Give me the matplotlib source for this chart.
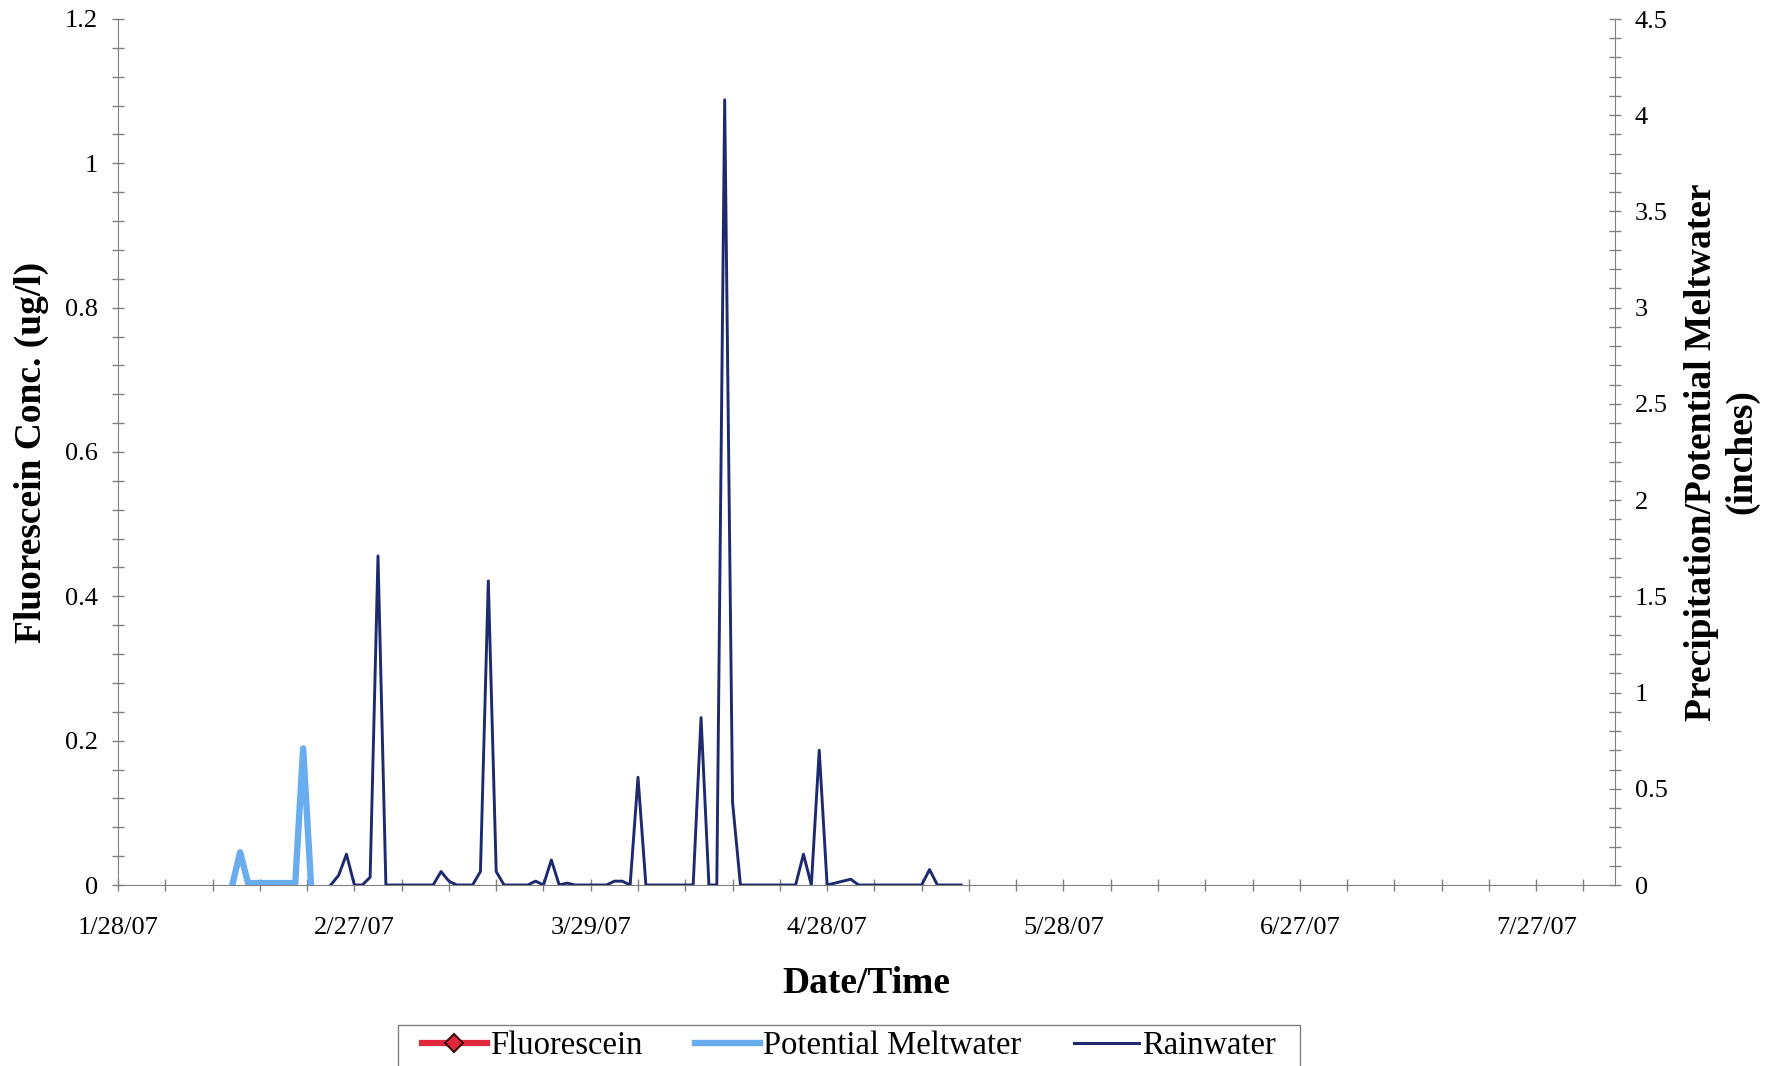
import numpy as np
import pandas as pd
import matplotlib
matplotlib.use('Agg')
import matplotlib.pyplot as plt
from matplotlib.ticker import MultipleLocator, FuncFormatter
from matplotlib.lines import Line2D
from matplotlib.patches import Rectangle

plt.rcParams['font.family'] = ['Liberation Serif', 'DejaVu Serif']

startDate = pd.Timestamp('2007-01-28')
endDate = pd.Timestamp('2007-08-06')

# no fluorescein was detected - the series is only in the legend
flDays = []
flValues = []

# days after 1/28/07, inches
meltDays = [14.5, 15.5, 16.5, 17.5, 18.5, 19.5, 20.5, 21.5, 22.5, 23.5, 24.5]
meltValues = [0, 0.17, 0.01, 0.01, 0.01, 0.01, 0.01, 0.01, 0.01, 0.71, 0]

rainDays = list(range(27, 108))
rainValues = [0, 0.05, 0.16, 0, 0, 0.04, 1.71, 0,          # 27-34
              0, 0, 0, 0, 0, 0, 0.07, 0.02, 0,             # 35-43
              0, 0, 0.07, 1.58, 0.07, 0,                   # 44-49
              0, 0, 0, 0.02, 0, 0.13, 0, 0.01, 0,          # 50-58
              0, 0, 0, 0, 0.02, 0.02, 0, 0.56, 0,          # 59-67
              0, 0, 0, 0, 0, 0, 0.87, 0, 0, 4.08, 0.43, 0, # 68-79
              0, 0, 0, 0, 0, 0, 0, 0.16, 0, 0.70, 0,       # 80-90
              0.01, 0.02, 0.03, 0,                         # 91-94
              0, 0, 0, 0, 0, 0, 0, 0, 0.08, 0,             # 95-104
              0, 0, 0]                                     # 105-107

flColor = '#E0283C'
meltColor = '#6AADEE'
rainColor = '#1E2A6E'
axisColor = '#808080'

def toDates(days):
    return startDate + pd.to_timedelta(np.array(days, dtype=float), unit='D')

W, H = 1787, 1066
fig = plt.figure(figsize=(W / 100, H / 100), dpi=100)
ax = fig.add_axes([118 / W, 1 - 885 / H, (1615 - 118) / W, (885 - 19) / H])
ax2 = ax.twinx()

ax.plot(toDates(flDays), flValues, color=flColor, lw=4.5, marker='D')
ax2.plot(toDates(meltDays), meltValues, color=meltColor, lw=4.6,
         solid_joinstyle='round', solid_capstyle='round')
ax2.plot(toDates(rainDays), rainValues, color=rainColor, lw=2.1)

ax.set_xlim(startDate, endDate)
ax.set_ylim(0, 1.2)
ax2.set_ylim(0, 4.5)

majorDates = pd.date_range(startDate, endDate, freq='30D')
minorDates = pd.date_range(startDate, endDate, freq='6D')
ax.set_xticks(majorDates)
ax.set_xticklabels([f"{d.month}/{d.day}/{d:%y}" for d in majorDates])
ax.set_xticks(minorDates, minor=True)

ax.yaxis.set_major_locator(MultipleLocator(0.2))
ax.yaxis.set_minor_locator(MultipleLocator(0.04))
ax2.yaxis.set_major_locator(MultipleLocator(0.5))
ax2.yaxis.set_minor_locator(MultipleLocator(0.1))
fmt = FuncFormatter(lambda v, _: f"{v:g}")
ax.yaxis.set_major_formatter(fmt)
ax2.yaxis.set_major_formatter(fmt)

for a in (ax, ax2):
    a.spines['top'].set_visible(False)
    a.tick_params(which='both', direction='inout', length=8.5, width=1,
                  color=axisColor, labelsize=19, labelcolor='black')
    a.set_facecolor('none')
ax.spines['right'].set_visible(False)
ax2.spines['left'].set_visible(False)
ax2.spines['bottom'].set_visible(False)
ax.spines['left'].set_color(axisColor)
ax.spines['bottom'].set_color(axisColor)
ax2.spines['right'].set_color(axisColor)
ax.tick_params(axis='y', pad=10)
ax2.tick_params(axis='y', pad=10)
ax.tick_params(axis='x', pad=19)

ax.set_xlabel('Date/Time', fontsize=27, fontweight='bold')
ax.xaxis.label.set_va('center')
ax.xaxis.set_label_coords(0.5, -0.114)

ax.set_ylabel('Fluorescein Conc. (ug/l)', fontsize=27, fontweight='bold')
ax.yaxis.label.set_va('center')
ax.yaxis.set_label_coords(-0.058, 0.5)

ax2.set_ylabel('Precipitation/Potential Meltwater\n(inches)', fontsize=27,
               fontweight='bold', rotation=90, linespacing=1.2)
ax2.yaxis.label.set_va('center')
ax2.yaxis.label.set_ha('center')
ax2.yaxis.set_label_coords(1.0715, 0.5)

handles = [
    Line2D([], [], color=flColor, lw=4.5, marker='D', markersize=9,
           markerfacecolor=flColor, markeredgecolor='#3A0A10', markeredgewidth=1.5),
    Line2D([], [], color=meltColor, lw=4.6),
    Line2D([], [], color=rainColor, lw=2.2),
]
leg = fig.legend(handles, ['Fluorescein', 'Potential Meltwater', 'Rainwater'],
                 loc='upper center', bbox_to_anchor=(849 / W, 1 - 1031 / H),
                 ncol=3, fontsize=23.5, frameon=False,
                 handlelength=2.0, handletextpad=0.1, columnspacing=1.6,
                 borderpad=0.0, borderaxespad=0)

# Excel-style legend box: wide side padding, tight top/bottom
fig.canvas.draw()
bb = leg.get_window_extent()
padX, padY = 24, 6
fig.patches.append(Rectangle((bb.x0 - padX, bb.y0 - padY),
                             bb.width + 2 * padX, bb.height + 2 * padY,
                             transform=None, fill=False,
                             edgecolor=axisColor, linewidth=1))

fig.savefig('out.png', dpi=100, facecolor='white')
